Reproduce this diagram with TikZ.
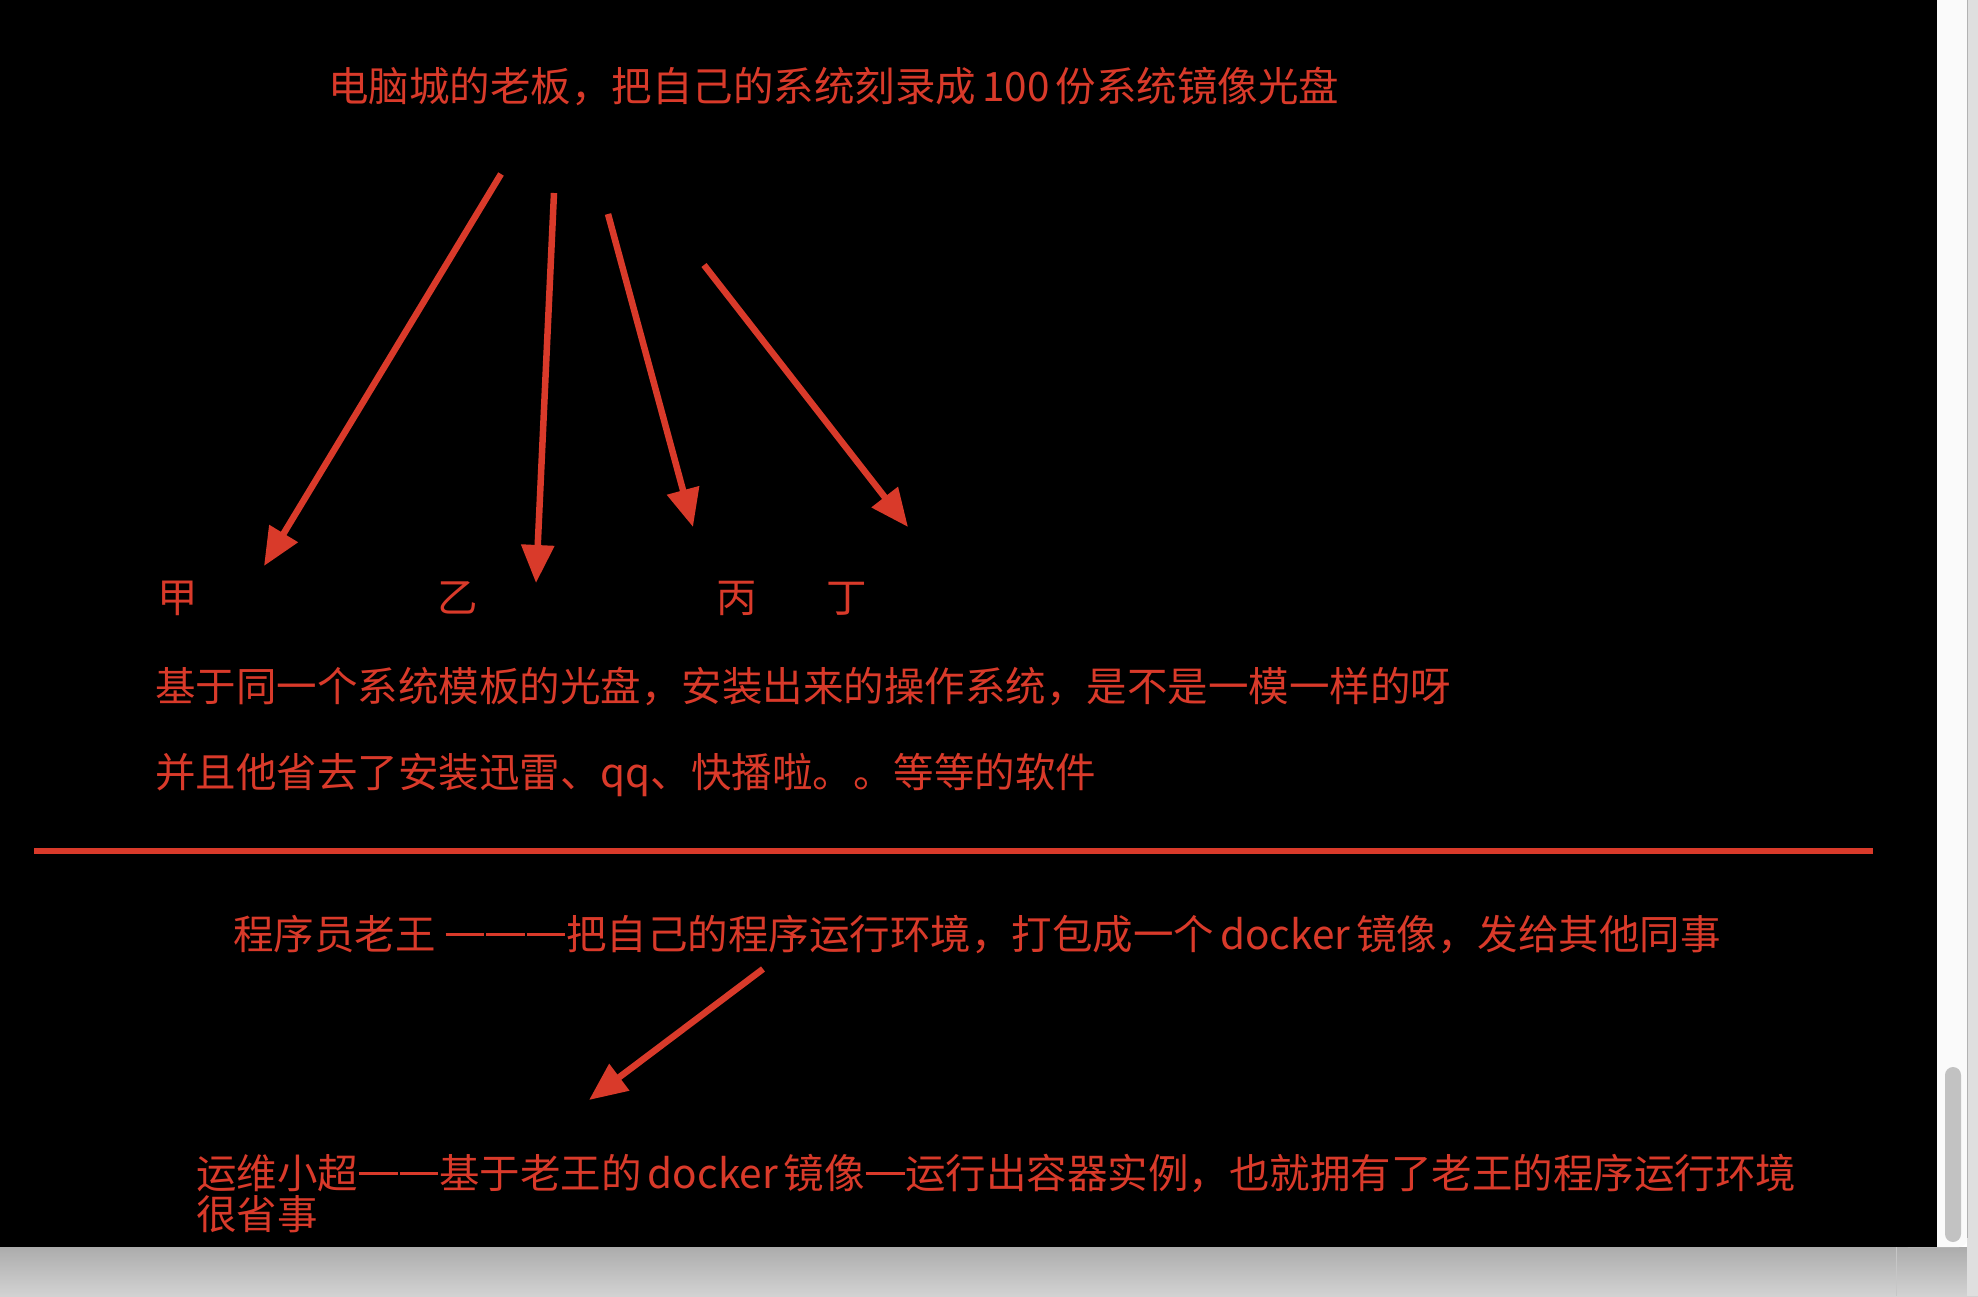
\documentclass[tikz,border=0pt]{standalone}
\usepackage{fontspec}
\newfontfamily\cjk{Noto Sans CJK SC}
\usetikzlibrary{arrows.meta}
\definecolor{myred}{RGB}{217,58,42}
\definecolor{stripw}{RGB}{250,250,250}
\definecolor{thumb}{RGB}{194,194,194}
\newcommand{\emd}{\makebox[1em][c]{\rule[0.33em]{0.96em}{0.055em}}}
\newcommand{\lsp}{\hspace{0.15em}}
\begin{document}
\begin{tikzpicture}[x=1pt,y=-1pt,
  txt/.style={anchor=base west, inner sep=0pt, text=myred, font=\cjk\fontsize{40.5}{40}\selectfont},
  arr/.style={draw=myred, line width=6.5pt, -{Triangle[length=38pt,width=32pt]}}]
\useasboundingbox (0,0) rectangle (1978,1296);
% window chrome
\fill[top color=gray!65, bottom color=gray!35] (0,1247) rectangle (1978,1296);
\fill[gray!25] (1967,0) rectangle (1978,1296);
\draw[gray!45, line width=1pt] (1896,1247) -- (1896,1296);
\fill[stripw, rounded corners=8pt] (1900,-20) rectangle (1967,1247);
\draw[gray!60, line width=1pt] (1967,0) -- (1967,1238);
\fill[thumb, rounded corners=8pt] (1945,1067) rectangle (1961,1242);
\fill[black] (0,0) rectangle (1937,1247);
% texts
\node[txt] (top) at (328,101) {电脑城的老板，把自己的系统刻录成\lsp 100\lsp 份系统镜像光盘};
\node[txt] (jia) at (157,612) {甲};
\node[txt] (yi) at (437,612) {乙};
\node[txt] (bing) at (716,612) {丙};
\node[txt] (ding) at (826,612) {丁};
\node[txt] (l1) at (155,701) {基于同一个系统模板的光盘，安装出来的操作系统，是不是一模一样的呀};
\node[txt] (l2) at (155,787) {并且他省去了安装迅雷、qq、快播啦。。等等的软件};
\node[txt] (wang) at (233,949) {程序员老王 \emd\emd\emd 把自己的程序运行环境，打包成一个\lsp docker\lsp 镜像，发给其他同事};
\node[txt] (chao) at (196,1188) {运维小超\emd\emd 基于老王的\lsp docker\lsp 镜像\emd 运行出容器实例，也就拥有了老王的程序运行环境};
\node[txt] (chao2) at (196,1229) {很省事};
% divider
\coordinate (dl) at (34,851);
\coordinate (dr) at (1873,851);
\draw[myred, line width=6.5pt] (dl) -- (dr);
% arrows
\coordinate (s1) at (501,174); \coordinate (e1) at (264,566);
\coordinate (s2) at (554,193); \coordinate (e2) at (536,583);
\coordinate (s3) at (608,214); \coordinate (e3) at (693,527);
\coordinate (s4) at (704,265); \coordinate (e4) at (908,527);
\coordinate (s5) at (763,969); \coordinate (e5) at (589,1100);
\draw[arr] (s1) -- (e1);
\draw[arr] (s2) -- (e2);
\draw[arr] (s3) -- (e3);
\draw[arr] (s4) -- (e4);
\draw[arr] (s5) -- (e5);
\end{tikzpicture}
\end{document}
